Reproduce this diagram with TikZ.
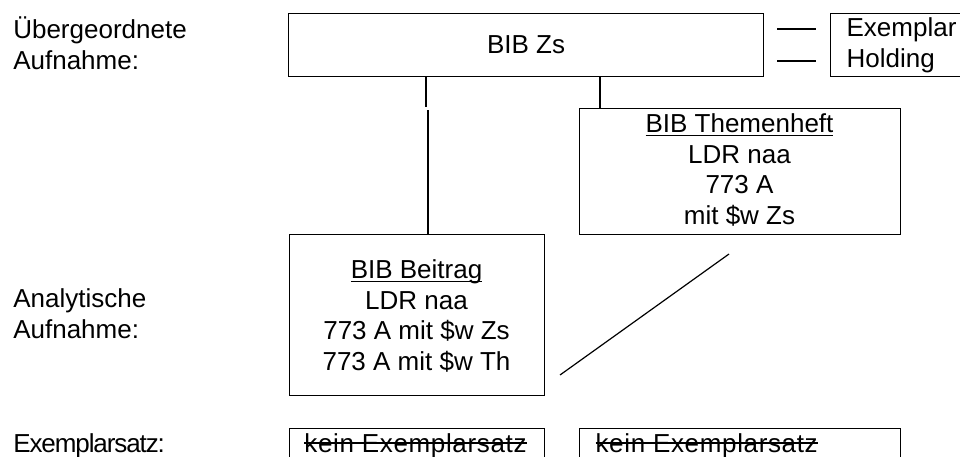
\documentclass[tikz,border=0pt]{standalone}
\usepackage{fontspec}
\setmainfont{Liberation Sans}
\newfontfamily\condfont[LetterSpace=-4.2]{Liberation Sans}
\newfontfamily\expfont[LetterSpace=2.5]{Liberation Sans}
\newsavebox\mytextbox
\newcommand\ulx[1]{\sbox\mytextbox{#1}\rlap{\rule[-3.6pt]{\wd\mytextbox}{1.2pt}}\usebox\mytextbox}
\newcommand\strk[1]{\sbox\mytextbox{#1}\rlap{\rule[8.4pt]{\wd\mytextbox}{1.2pt}}\usebox\mytextbox}
\newcommand\fs{\rule{0pt}{24pt}}
\begin{document}
\begin{tikzpicture}[x=1pt,y=-1pt,line width=1.2pt,
  boxn/.style={draw,line width=1.2pt,inner sep=0pt,anchor=north west},
  txt/.style={inner sep=0pt,font=\fontsize{26}{30.5}\selectfont,align=center},
  lbl/.style={inner sep=0pt,font=\fontsize{26}{30.5}\selectfont,align=left},
  keintxt/.style={inner sep=0pt,font=\expfont\fontsize{26}{30.5}\selectfont}]
\useasboundingbox (0,0) rectangle (960,456);
\clip (0,0) rectangle (960,456);
% boxes
\node[boxn,minimum width=475pt,minimum height=63pt] (zs) at (288,13) {};
\node[boxn,minimum width=150pt,minimum height=63pt] (hold) at (830,13) {};
\node[boxn,minimum width=321pt,minimum height=126pt] (them) at (579,108) {};
\node[boxn,minimum width=255pt,minimum height=161pt] (beit) at (289,234) {};
\node[boxn,minimum width=255pt,minimum height=50pt] (kein1) at (289,428) {};
\node[boxn,minimum width=321pt,minimum height=50pt] (kein2) at (579,428) {};
% row labels
\node[lbl,anchor=north west] (l1) at (12.7,14) {\fs Übergeordnete\\Aufnahme:};
\node[lbl,anchor=north west] (l2) at (12.7,283) {\fs Analytische\\Aufnahme:};
\node[inner sep=0pt,font=\condfont\fontsize{26}{30.5}\selectfont,anchor=base west] (l3) at (12.7,452) {Exemplarsatz:};
% box texts
\node[txt] (tzs) at (zs.center) {BIB Zs};
\node[lbl,anchor=north west] (thold) at (846,12) {\fs Exemplar\\Holding};
\node[txt,anchor=north] (tthem) at (739.5,108) {\fs\ulx{BIB Themenheft}\\LDR naa\\773 A\\mit \$w Zs};
\node[txt,anchor=north] (tbeit) at (416.5,254) {\fs\ulx{BIB Beitrag}\\LDR naa\\773 A mit \$w Zs\\773 A mit \$w Th};
\node[keintxt,anchor=base] (tk1) at (415.5,452) {\strk{kein Exemplarsatz}};
\node[keintxt,anchor=base west] (tk2) at (595,452) {\strk{kein Exemplarsatz}};
% connectors
\coordinate (a1) at (426,107);
\coordinate (a2) at (428,110);
\coordinate (b) at (600,0);
\draw (zs.south -| a1) -- (a1);
\draw (a2) -- (beit.north -| a2);
\draw (zs.south -| b) -- (them.north -| b);
\coordinate (d1) at (729,254);
\coordinate (d2) at (560,375);
\draw (d1) -- (d2);
\coordinate (e1) at (777,29);
\coordinate (e2) at (816,29);
\coordinate (e3) at (777,61);
\coordinate (e4) at (816,61);
\draw (e1) -- (e2);
\draw (e3) -- (e4);
\end{tikzpicture}
\end{document}
